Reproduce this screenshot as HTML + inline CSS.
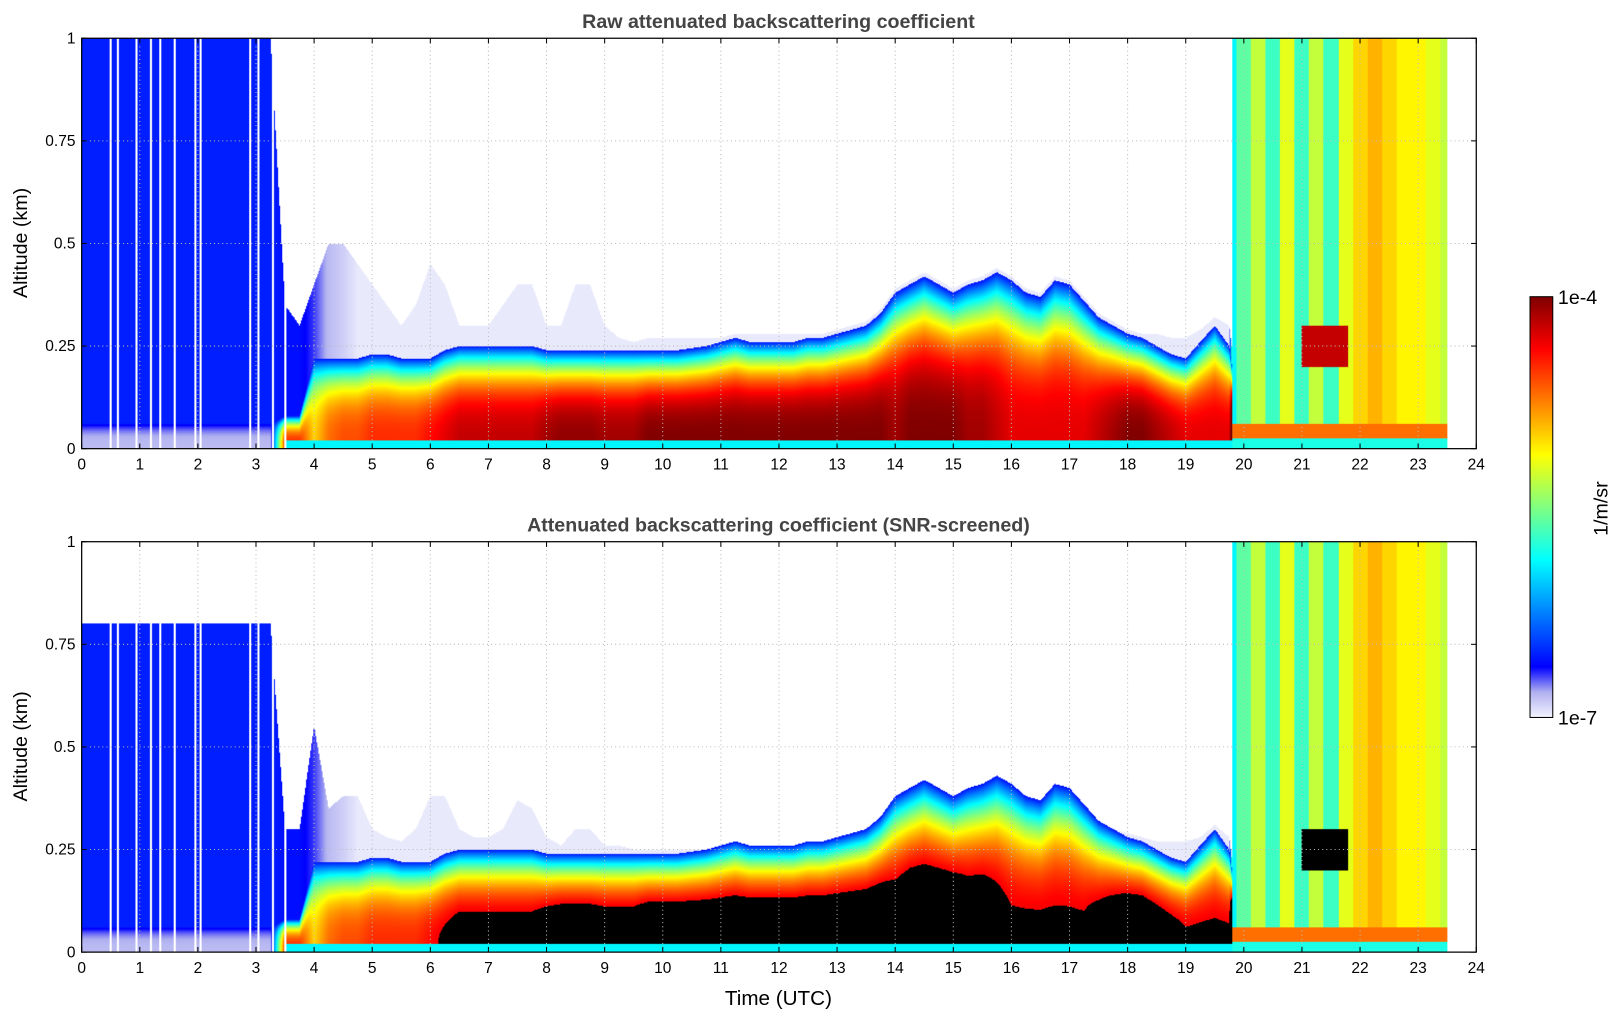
<!DOCTYPE html>
<html><head><meta charset="utf-8">
<style>
body{margin:0;background:#fff;width:1621px;height:1020px;overflow:hidden;position:relative;font-family:"Liberation Sans","DejaVu Sans",sans-serif}
#wrap{position:absolute;left:0;top:0;width:1568px;height:987px;transform:scale(1.0338);transform-origin:0 0}
canvas{position:absolute}
svg{position:absolute;left:0;top:0}
</style></head><body>
<div id="wrap">
<canvas id="c1" width="1349" height="397" style="left:79px;top:37px"></canvas>
<canvas id="c2" width="1349" height="397" style="left:79px;top:524px"></canvas>
<svg id="ov" width="1568" height="987"></svg>
</div>
<script>
// time step 0.25 h, index i -> t = i*0.25
const blTop=[0.06,0.06,0.06,0.06,0.06,0.06,0.06,0.06,0.06,0.06,0.06,0.06,0.06,0.06,
0.08,0.08,0.22,0.22,0.22,0.22,0.23,0.23,0.22,0.22,0.22,0.24,0.25,0.25,0.25,0.25,0.25,0.25,
0.24,0.24,0.24,0.24,0.24,0.24,0.24,0.24,0.24,0.24,0.245,0.25,0.26,0.27,0.26,0.26,0.26,0.26,
0.27,0.27,0.28,0.29,0.30,0.33,0.38,0.40,0.42,0.40,0.38,0.40,0.41,0.43,0.41,0.38,0.37,0.41,
0.40,0.36,0.32,0.30,0.28,0.27,0.25,0.23,0.22,0.26,0.30,0.25,0,0,0,0,0,0,0,0,0,0,0,0,0,0,0,0,0];
const blPeak=[-6.85,-6.85,-6.85,-6.85,-6.85,-6.85,-6.85,-6.85,-6.85,-6.85,-6.85,-6.85,-6.85,-6.85,
-4.5,-4.5,-5.0,-4.7,-4.6,-4.6,-4.5,-4.5,-4.5,-4.5,-4.4,-4.3,-4.2,-4.2,-4.2,-4.2,-4.2,-4.2,
-4.1,-4.05,-4.05,-4.05,-4.1,-4.1,-4.1,-4.0,-4.0,-4.0,-4.0,-4.0,-4.0,-4.0,-4.0,-4.0,-4.0,-4.0,
-4.0,-4.0,-4.0,-4.0,-4.0,-4.0,-4.1,-4.0,-4.0,-4.0,-4.0,-4.1,-4.1,-4.2,-4.3,-4.3,-4.3,-4.3,
-4.3,-4.3,-4.2,-4.1,-4.0,-4.0,-4.1,-4.2,-4.3,-4.3,-4.3,-4.3,0,0,0,0,0,0,0,0,0,0,0,0,0,0,0,0,0];
const bgTop=[1,1,1,1,1,1,1,1,1,1,1,1,1,1,0.35,0.3,0.4,0.5,0.5,0.45,0.4,0.35,0.3,0.35,0.45,0.4,0.3,0.3,0.3,0.35,0.4,0.4,
0.3,0.3,0.4,0.4,0.3,0.27,0.26,0.27,0.27,0.27,0.27,0.27,0.27,0.28,0.28,0.28,0.28,0.28,0.28,0.28,0.29,0.3,0.31,0.34,
0.39,0.41,0.43,0.41,0.39,0.41,0.42,0.44,0.42,0.39,0.38,0.42,0.41,0.37,0.33,0.31,0.29,0.28,0.28,0.27,0.27,0.29,0.32,0.3,
0,0,0,0,0,0,0,0,0,0,0,0,0,0,0,0,0];
const bgVal=[-6.55,-6.55,-6.55,-6.55,-6.55,-6.55,-6.55,-6.55,-6.55,-6.55,-6.55,-6.55,-6.55,-6.55,-6.6,-6.6,-6.7,-6.85,-6.9,-6.97,-6.97,-6.97,-6.97,-6.97,-6.97,-6.97,-6.97,-6.97,-6.97,-6.97,-6.97,-6.97,
-6.97,-6.97,-6.97,-6.97,-6.97,-6.97,-6.97,-6.97,-6.97,-6.97,-6.97,-6.97,-6.97,-6.97,-6.97,-6.97,-6.97,-6.97,-6.97,-6.97,-6.97,-6.97,-6.97,-6.97,
-6.97,-6.97,-6.97,-6.97,-6.97,-6.97,-6.97,-6.97,-6.97,-6.97,-6.97,-6.97,-6.97,-6.97,-6.97,-6.97,-6.97,-6.97,-6.97,-6.97,-6.97,-6.97,-6.97,-6.97,
0,0,0,0,0,0,0,0,0,0,0,0,0,0,0,0,0];
const scrTop=[0.8,0.8,0.8,0.8,0.8,0.8,0.8,0.8,0.8,0.8,0.8,0.8,0.8,0.8,0.3,0.3,0.55,0.35,0.38,0.38,0.3,0.28,0.27,0.3,0.38,0.38,0.3,0.28,0.28,0.3,0.37,0.35,
0.28,0.26,0.3,0.3,0.26,0.26,0.25,0.25,0.25,0.25,0.25,0.25,0.26,0.27,0.26,0.26,0.26,0.26,0.27,0.27,0.28,0.29,0.3,0.33,
0.38,0.4,0.42,0.4,0.38,0.4,0.41,0.43,0.41,0.38,0.37,0.41,0.4,0.36,0.32,0.3,0.29,0.28,0.27,0.27,0.27,0.28,0.31,0.28,
0,0,0,0,0,0,0,0,0,0,0,0,0,0,0,0,0];
const cloudVal={79:-5.9,80:-5.6,81:-5.3,82:-5.7,83:-5.2,84:-5.7,85:-5.3,86:-5.7,87:-5.2,88:-5.0,89:-4.9,90:-5.0,91:-5.1,92:-5.1,93:-5.2,94:-5.3};
const gapTimes=[0.5,0.62,0.95,1.2,1.35,1.6,1.95,2.05,2.9,3.05,3.3,3.5];
const xTicks=[0,1,2,3,4,5,6,7,8,9,10,11,12,13,14,15,16,17,18,19,20,21,22,23,24];
const yTicks=[0,0.25,0.5,0.75,1];
const yTickLabels=["0","0.25","0.5","0.75","1"];

const W=1349,H=397;
const stops=[[0,[244,244,255]],[0.06,[176,176,240]],[0.12,[0,0,255]],[0.375,[0,255,255]],[0.5,[128,255,128]],[0.625,[255,255,0]],[0.875,[255,0,0]],[1,[128,0,0]]];
function cmap(v){let f=(v+7)/3;f=Math.max(0,Math.min(1,f));
 for(let k=1;k<stops.length;k++){if(f<=stops[k][0]){const a=stops[k-1],b=stops[k];const r=(f-a[0])/(b[0]-a[0]);
  return [0,1,2].map(j=>Math.round(a[1][j]+(b[1][j]-a[1][j])*r));}}return stops[stops.length-1][1];}
function lerp(arr,i){const i0=Math.floor(i),fr=i-i0;const a=arr[i0]??0,b=arr[i0+1]??a;return a+(b-a)*fr;}
function value(t,z,scr){
 if(t>23.5)return null;
 const i=t/0.25,ni=Math.round(i);
 if(i>=79.2 && cloudVal[ni]!==undefined){
  if(t>21&&t<21.8&&z>0.2&&z<0.3)return scr?'black':-4.2;
  if(z>0.025&&z<0.06)return -4.7;
  if(z<0.025)return -5.8;
  return cloudVal[ni];
 }
 const top=lerp(blTop,i),pk=lerp(blPeak,i);
 if(z<top){
  if(z<0.02&&t>3.5)return -5.9;
  const v=pk+(-6.6-pk)*Math.pow(z/top,3);
  if(scr&&t>3.5&&v>-4.35)return 'black';
  return v;
 }
 const lim=scr?lerp(scrTop,i):lerp(bgTop,i);
 if(z<lim)return lerp(bgVal,i);
 return null;
}
function draw(id,scr){
 const c=document.getElementById(id),ctx=c.getContext('2d');const im=ctx.createImageData(W,H);
 for(let px=0;px<W;px++){
  const t=(px+0.5)/W*24;
  let gap=false;for(const g of gapTimes){if(Math.abs(t-g)*W/24<1)gap=true;}
  for(let py=0;py<H;py++){
   const z=1-(py+0.5)/H;let col=[255,255,255];
   if(!gap){const v=value(t,z,scr);if(v==='black')col=[0,0,0];else if(v!==null)col=cmap(v);}
   const o=(py*W+px)*4;im.data[o]=col[0];im.data[o+1]=col[1];im.data[o+2]=col[2];im.data[o+3]=255;
  }
 }
 ctx.putImageData(im,0,0);
}
draw('c1',false);draw('c2',true);

const ns='http://www.w3.org/2000/svg',svg=document.getElementById('ov');
function mk(tag,at,txt){const e=document.createElementNS(ns,tag);for(const k in at)e.setAttribute(k,at[k]);if(txt!==undefined)e.textContent=txt;svg.appendChild(e);return e;}
const X0=79,X1=1428;
function xs(t){return X0+t*(X1-X0)/24;}
function panel(top,title,tname){
 const bot=top+397;const ys=z=>bot-z*397;
 for(const t of xTicks){if(t>0&&t<24){const l=mk('line',{x1:xs(t),x2:xs(t),y1:top,y2:bot,stroke:'#bbb','stroke-width':1,'stroke-dasharray':'1,3'});
  }}
 for(const z of yTicks){if(z>0&&z<1){const l=mk('line',{x1:X0,x2:X1,y1:ys(z),y2:ys(z),stroke:'#bbb','stroke-width':1,'stroke-dasharray':'1,3'});
  }}
 const fr=mk('rect',{x:X0,y:top,width:X1-X0,height:397,fill:'none',stroke:'#000','stroke-width':1.2});
 
 xTicks.forEach(t=>{
  mk('line',{x1:xs(t),x2:xs(t),y1:bot,y2:bot-5,stroke:'#000'});mk('line',{x1:xs(t),x2:xs(t),y1:top,y2:top+5,stroke:'#000'});
  const tx=mk('text',{x:xs(t),y:bot+20,'font-size':15,'text-anchor':'middle'},String(t));
  
 });
 yTicks.forEach((z,k)=>{
  mk('line',{x1:X0,x2:X0+5,y1:ys(z),y2:ys(z),stroke:'#000'});mk('line',{x1:X1,x2:X1-5,y1:ys(z),y2:ys(z),stroke:'#000'});
  const tx=mk('text',{x:73,y:ys(z)+5,'font-size':15,'text-anchor':'end'},yTickLabels[k]);
  
 });
 const tt=mk('text',{x:753,y:top-10,'font-size':19,'font-weight':'bold','text-anchor':'middle',fill:'#444'},title);
 
 const yl=mk('text',{x:0,y:0,'font-size':19,'text-anchor':'middle',transform:`translate(26,${top+198}) rotate(-90)`},'Altitude (km)');
 
}
panel(37,'Raw attenuated backscattering coefficient','top-panel-title');
panel(524,'Attenuated backscattering coefficient (SNR-screened)','bottom-panel-title');
const xl=mk('text',{x:753,y:972,'font-size':20,'text-anchor':'middle'},'Time (UTC)');

const defs=mk('defs',{});const lg=document.createElementNS(ns,'linearGradient');lg.setAttribute('id','cb');lg.setAttribute('x1','0');lg.setAttribute('y1','1');lg.setAttribute('x2','0');lg.setAttribute('y2','0');defs.appendChild(lg);
stops.forEach(s=>{const st=document.createElementNS(ns,'stop');st.setAttribute('offset',s[0]);st.setAttribute('stop-color',`rgb(${s[1].join(',')})`);lg.appendChild(st);});
const cb=mk('rect',{x:1480,y:287,width:22,height:407,fill:'url(#cb)',stroke:'#000','stroke-width':1});

const c1=mk('text',{x:1507,y:294,'font-size':19},'1e-4');
const c2=mk('text',{x:1507,y:701,'font-size':19},'1e-7');
const cu=mk('text',{x:0,y:0,'font-size':19,'text-anchor':'middle',transform:'translate(1555,492) rotate(-90)'},'1/m/sr');

</script>
</body></html>
